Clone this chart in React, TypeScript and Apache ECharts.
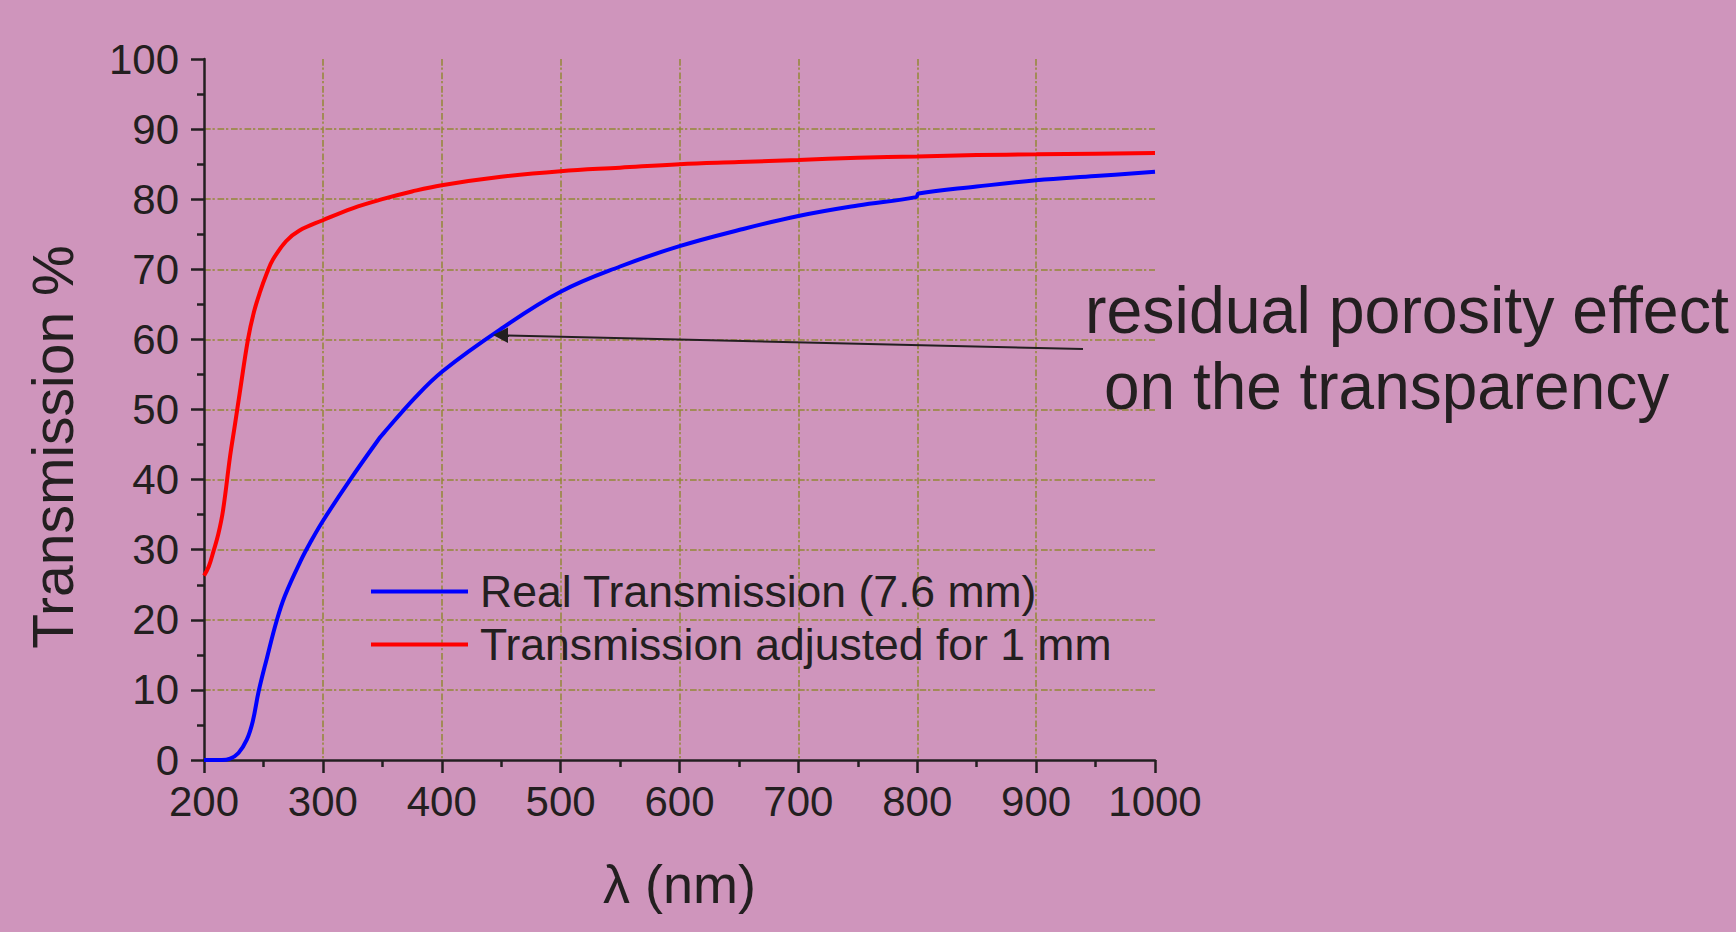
import React, { useEffect, useRef } from "react";
import * as echarts from "echarts";

// ---- data ----
const realLambda = [200, 215, 222, 229, 236, 241, 246, 253, 261, 268, 281, 290, 300, 323, 348, 351, 377, 401, 449, 500, 550, 600, 650, 700, 750, 799, 801, 850, 900, 950, 1000];
const realT = [0, 0, 0.2, 1.0, 2.9, 5.5, 9.8, 14.6, 19.8, 23.4, 28.3, 31.2, 34.1, 40.0, 46.0, 46.6, 51.6, 55.5, 61.4, 66.8, 70.4, 73.3, 75.6, 77.6, 79.1, 80.3, 80.8, 81.8, 82.7, 83.3, 83.9];

const adjLambda = [200, 204, 208, 212, 216, 222, 226, 230, 237, 242, 247, 253, 258, 269, 280, 300, 325, 350, 375, 400, 450, 500, 550, 600, 650, 700, 750, 800, 850, 900, 950, 1000];
const adjT = [26.3, 27.6, 29.8, 32.2, 35.6, 43.4, 47.8, 52.3, 60.0, 63.9, 66.7, 69.5, 71.4, 74.0, 75.5, 77.0, 78.7, 80.0, 81.1, 82.0, 83.2, 84.0, 84.5, 85.0, 85.3, 85.6, 85.9, 86.1, 86.3, 86.4, 86.5, 86.6];

const seriesNames = ["Real Transmission (7.6 mm)", "Transmission adjusted for 1 mm"];
const xTicks = [200, 300, 400, 500, 600, 700, 800, 900, 1000];
const yTicks = [0, 10, 20, 30, 40, 50, 60, 70, 80, 90, 100];
const annotationLines = ["residual porosity effect", "on the transparency"];
const xAxisTitle = "λ (nm)";
const yAxisTitle = "Transmission %";

const BG = "#CF95BC";
const INK = "#231F20";
const GRID = "#948836";
const FONT = "'Liberation Sans', Arial, sans-serif";
const CLEAR = "rgba(0,0,0,0)";

export default function App() {
  const ref = useRef<HTMLDivElement>(null);

  useEffect(() => {
    document.body.style.margin = "0";
    document.body.style.background = BG;
    const chart = echarts.init(ref.current!, null, { renderer: "svg" });

    const gridColorsX = xTicks.map((_, i) => (i === 0 || i === xTicks.length - 1 ? CLEAR : GRID));
    const gridColorsY = yTicks.map((_, i) => (i === 0 || i === yTicks.length - 1 ? CLEAR : GRID));
    const dashDot = [6.7, 1.8, 2.3, 2.7];

    chart.setOption({
      animation: false,
      backgroundColor: BG,
      textStyle: { fontFamily: FONT },
      grid: { left: 204, top: 59, width: 951, height: 701, containLabel: false },
      legend: {
        orient: "vertical",
        left: 371,
        top: 565,
        padding: 0,
        itemGap: 0,
        icon: "rect",
        itemWidth: 97,
        itemHeight: 4,
        data: seriesNames,
        textStyle: { fontSize: 44.5, color: INK, fontFamily: FONT, lineHeight: 53, padding: [0, 0, 0, 7] },
      },
      xAxis: {
        type: "value",
        min: xTicks[0],
        max: xTicks[xTicks.length - 1],
        interval: 100,
        name: xAxisTitle,
        nameLocation: "middle",
        nameGap: 97,
        nameTextStyle: { fontSize: 54, color: INK, fontFamily: FONT, lineHeight: 54 },
        axisLine: { lineStyle: { color: INK, width: 2.5 } },
        axisTick: { length: 13, lineStyle: { color: INK, width: 2.5 } },
        minorTick: { show: true, splitNumber: 2, length: 7, lineStyle: { color: INK, width: 2.5 } },
        axisLabel: {
          fontSize: 42,
          color: INK,
          margin: 20,
          fontFamily: FONT,
          showMinLabel: true,
          showMaxLabel: true,
          formatter: (v: number) => String(v),
        },
        splitLine: { show: true, lineStyle: { color: gridColorsX, width: 1.5, type: dashDot } },
      },
      yAxis: {
        type: "value",
        min: yTicks[0],
        max: yTicks[yTicks.length - 1],
        interval: 10,
        axisLine: { show: true, lineStyle: { color: INK, width: 2.5 } },
        axisTick: { show: true, length: 13, lineStyle: { color: INK, width: 2.5 } },
        minorTick: { show: true, splitNumber: 2, length: 7, lineStyle: { color: INK, width: 2.5 } },
        axisLabel: { fontSize: 42, color: INK, margin: 25, fontFamily: FONT, formatter: (v: number) => String(v) },
        splitLine: { show: true, lineStyle: { color: gridColorsY, width: 1.5, type: dashDot } },
      },
      series: [
        {
          name: seriesNames[0],
          type: "line",
          data: realLambda.map((x, i) => [x, realT[i]]),
          showSymbol: false,
          smooth: 0.4,
          lineStyle: { color: "#0000FF", width: 4 },
          itemStyle: { color: "#0000FF" },
          z: 3,
        },
        {
          name: seriesNames[1],
          type: "line",
          data: adjLambda.map((x, i) => [x, adjT[i]]),
          showSymbol: false,
          smooth: 0.4,
          lineStyle: { color: "#FF0000", width: 4 },
          itemStyle: { color: "#FF0000" },
          z: 3,
        },
      ],
      graphic: [
        {
          type: "text",
          x: 53,
          y: 447,
          rotation: Math.PI / 2,
          style: { text: yAxisTitle, fontSize: 57, fill: INK, fontFamily: FONT, align: "center", verticalAlign: "middle" },
        },
        {
          type: "text",
          x: 1085,
          y: 310,
          scaleX: 0.977,
          style: { text: annotationLines[0], fontSize: 66, fill: INK, fontFamily: FONT, align: "left", verticalAlign: "middle" },
        },
        {
          type: "text",
          x: 1104,
          y: 386,
          scaleX: 0.969,
          style: { text: annotationLines[1], fontSize: 66, fill: INK, fontFamily: FONT, align: "left", verticalAlign: "middle" },
        },
        {
          type: "line",
          shape: { x1: 1083, y1: 349, x2: 506, y2: 335.4 },
          style: { stroke: INK, lineWidth: 2 },
          z: 10,
        },
        {
          type: "polygon",
          shape: { points: [[493, 335], [508, 327.5], [508, 343]] },
          style: { fill: INK },
          z: 10,
        },
      ],
    });

    return () => chart.dispose();
  }, []);

  return (
    <div
      ref={ref}
      style={{ position: "fixed", left: 0, top: 0, width: 1736, height: 932 }}
    />
  );
}
